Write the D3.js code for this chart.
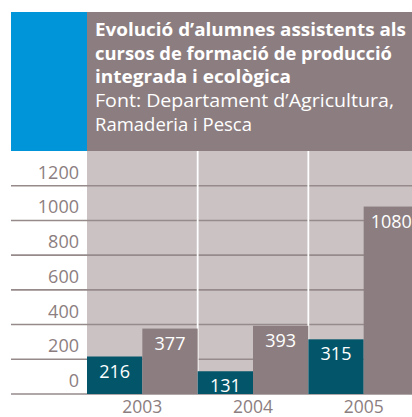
<!DOCTYPE html>
<html>
<head>
<meta charset="utf-8">
<script src="https://cdn.jsdelivr.net/npm/d3@7/dist/d3.min.js"></script>
<style>
html,body{margin:0;padding:0;background:#fff;}
svg{display:block;}
text{font-family:"Open Sans","Noto Sans",sans-serif;}
</style>
</head>
<body>
<svg id="chart" width="412" height="417"></svg>
<script>
const years = ["2003","2004","2005"];
const seriesTeal = [216,131,315];
const seriesGrey = [377,393,1080];
const yTicks = [0,200,400,600,800,1000,1200];
const titleLines = ["Evolució d’alumnes assistents als","cursos de formació de producció","integrada i ecològica"];
const sourceLines = ["Font: Departament d’Agricultura,","Ramaderia i Pesca"];

const C = {blue:"#0095d8", head:"#8c7e80", bg:"#cac2c3", teal:"#03566a", grey:"#8c7e80", grid:"#968a8b", tick:"#8c7e80"};

const svg = d3.select("#chart");
const plotL = 87, plotT = 151, plotB = 394, plotR = 412;

const y = d3.scaleLinear().domain([0,1400]).range([plotB, plotT]);
const x = d3.scaleBand().domain(years).range([plotL, 419]).padding(0);
const xs = d3.scaleBand().domain(["teal","grey"]).range([0, x.bandwidth()]).padding(0);

// header
svg.append("rect").attr("x",11).attr("y",12).attr("width",plotL-11).attr("height",plotT-12).attr("fill",C.blue);
svg.append("rect").attr("x",plotL).attr("y",12).attr("width",plotR-plotL).attr("height",plotT-12).attr("fill",C.head);

const titleW = [311,297,196];
titleLines.forEach((t,i)=>{
  svg.append("text").attr("x",95).attr("y",36+i*23.7)
    .attr("fill","#fff").attr("font-weight","700").attr("font-size",18.5)
    .attr("textLength",titleW[i]).attr("lengthAdjust","spacingAndGlyphs").text(t);
});
const srcW = [299,157];
sourceLines.forEach((t,i)=>{
  svg.append("text").attr("x",95).attr("y",107.3+i*23.7)
    .attr("fill","#fff").attr("font-weight","400").attr("font-size",18.5)
    .attr("textLength",srcW[i]).attr("lengthAdjust","spacingAndGlyphs").text(t);
});

// plot background
svg.append("rect").attr("x",plotL).attr("y",plotT).attr("width",plotR-plotL).attr("height",plotB-plotT).attr("fill",C.bg);

// gridlines
svg.append("g").selectAll("line").data(yTicks).join("line")
  .attr("x1",11).attr("x2",plotR)
  .attr("y1",d=>y(d)).attr("y2",d=>y(d))
  .attr("stroke",C.grid).attr("stroke-width",1.6);

// separators
svg.append("g").selectAll("line").data(years.slice(1)).join("line")
  .attr("x1",d=>x(d)).attr("x2",d=>x(d))
  .attr("y1",plotT).attr("y2",plotB)
  .attr("stroke","#fff").attr("stroke-width",1.8);

// tick labels
svg.append("g").selectAll("text").data(yTicks).join("text")
  .attr("x",79).attr("y",d=>y(d)-7).attr("text-anchor","end")
  .attr("fill",C.tick).attr("font-size",18).text(d=>d);

// bars
const groups = svg.append("g").selectAll("g").data(years).join("g")
  .attr("transform",d=>`translate(${x(d)},0)`);
const rows = (i)=>[{k:"teal",v:seriesTeal[i],c:C.teal},{k:"grey",v:seriesGrey[i],c:C.grey}];
groups.each(function(d,i){
  const g = d3.select(this);
  g.selectAll("rect").data(rows(i)).join("rect")
    .attr("x",r=>xs(r.k)).attr("width",xs.bandwidth())
    .attr("y",r=>y(r.v)).attr("height",r=>plotB-y(r.v))
    .attr("fill",r=>r.c);
  g.selectAll("text").data(rows(i)).join("text")
    .attr("x",r=>xs(r.k)+xs.bandwidth()/2).attr("y",r=>y(r.v)+21)
    .attr("text-anchor","middle").attr("fill","#fff").attr("font-size",18)
    .text(r=>r.v);
});

// x labels
svg.append("g").selectAll("text").data(years).join("text")
  .attr("x",d=>x(d)+x.bandwidth()/2).attr("y",412.5)
  .attr("text-anchor","middle").attr("fill",C.tick).attr("font-size",17.5).text(d=>d);
</script>
</body>
</html>
